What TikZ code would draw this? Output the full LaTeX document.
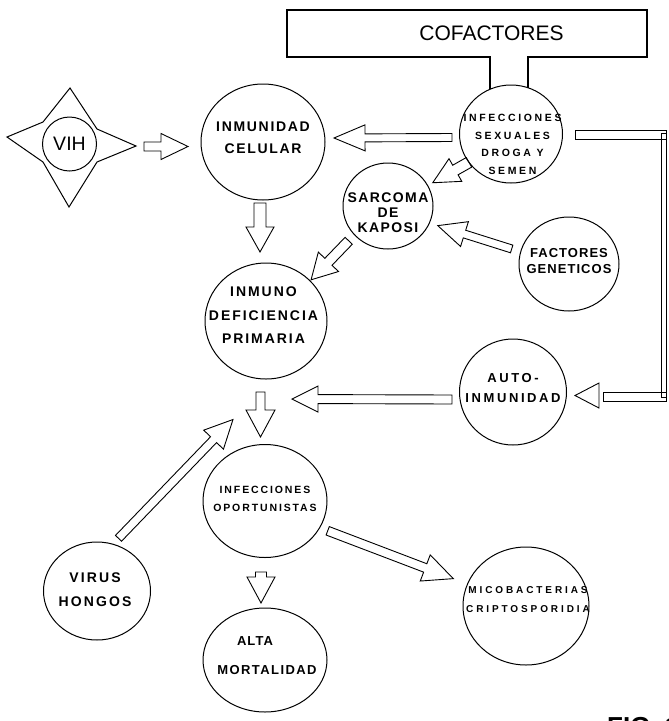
\documentclass[tikz,border=0pt]{standalone}
\usepackage{fontspec}
\newfontfamily\lsans{Liberation Sans}
\usetikzlibrary{shapes.geometric,calc}

\newcommand\blkarrow[5]{%
  \path (#1) coordinate (blkT) (#2) coordinate (blkH);
  \pgfpointdiff{\pgfpointanchor{blkT}{center}}{\pgfpointanchor{blkH}{center}}%
  \pgfgetlastxy{\blkdx}{\blkdy}%
  \pgfmathsetmacro\blkang{atan2(\blkdy,\blkdx)}%
  \pgfmathsetmacro\blklen{veclen(\blkdx,\blkdy)}%
  \begin{scope}[shift={(blkT)},rotate=\blkang]
    \draw[arr] (0,#3) -- ({\blklen-#5},#3) -- ({\blklen-#5},#4) -- (\blklen,0)
      -- ({\blklen-#5},-#4) -- ({\blklen-#5},-#3) -- (0,-#3) -- cycle;
  \end{scope}}

\tikzset{
  bub/.style={draw, ellipse, inner sep=0pt, outer sep=0pt, line width=1pt},
  arr/.style={draw, line width=0.9pt, line join=miter},
  lbl/.style n args={3}{font={\lsans\bfseries\fontsize{#1}{#2}\selectfont\addfontfeature{LetterSpace=#3}}, align=center, inner sep=0pt},
}

\begin{document}
\begin{tikzpicture}[x=1pt,y=-1pt]
\useasboundingbox (0,0) rectangle (669,721);
\fill[white] (0,0) rectangle (669,721);
\clip (0,0) rectangle (669,721);

% ---- VIH star ----
\coordinate (vihW) at (7,137);
\coordinate (vihN) at (70,88);
\coordinate (vihE) at (136,146);
\coordinate (vihS) at (69,207);
\draw[line width=1pt, line join=miter] (vihW) -- (43,122) -- (vihN) -- (97,129) -- (vihE)
   -- (97,162) -- (vihS) -- (43,162) -- cycle;
\node[bub, circle, minimum size=54pt] (vih) at (69.5,144) {};
\node[font={\lsans\fontsize{19.5}{22}\selectfont}, inner sep=0pt] (vihT) at (69.5,144) {VIH};

% ---- bubbles ----
\node[bub, minimum width=124pt, minimum height=116pt] (cel) at (263,142) {};
\node[lbl={14}{22}{12}] (celT) at (263,138) {INMUNIDAD\\CELULAR};

\node[bub, minimum width=103pt, minimum height=98pt] (inf) at (511,134) {};
\node[lbl={10.5}{17.7}{25}] (infT) at (512.5,144.5) {INFECCIONES\\SEXUALES\\DROGA Y\\SEMEN};

\node[bub, minimum width=90pt, minimum height=86pt] (sar) at (388,206) {};
\node[lbl={14}{15}{10}] (sarT) at (388,213) {SARCOMA\\DE\\KAPOSI};

\node[bub, minimum width=100pt, minimum height=94pt] (fac) at (569,264) {};
\node[lbl={13}{16}{8}] (facT) at (569,261) {FACTORES\\GENETICOS};

\node[bub, minimum width=122pt, minimum height=116pt] (pri) at (266,321) {};
\node[lbl={14}{23.5}{14}] (priT) at (263.5,315.5) {INMUNO\\DEFICIENCIA\\PRIMARIA};

\node[bub, minimum width=107pt, minimum height=106pt] (aut) at (513,392) {};
\node[lbl={13}{20}{20}] (autT) at (513,388) {AUTO-\\INMUNIDAD};

\node[bub, minimum width=124pt, minimum height=113pt] (opo) at (265,501) {};
\node[lbl={10.5}{18}{18}] (opoT) at (265,499) {INFECCIONES\\OPORTUNISTAS};

\node[bub, minimum width=107pt, minimum height=98pt] (vir) at (97,591) {};
\node[lbl={14}{24}{15}] (virT) at (95,590) {VIRUS\\HONGOS};

\node[bub, minimum width=124pt, minimum height=104pt] (alt) at (265,660) {};
\node[lbl={13}{16}{8}] (altT1) at (255,641.5) {ALTA};
\node[lbl={13}{16}{11}] (altT2) at (267,670.5) {MORTALIDAD};

\node[bub, minimum width=126pt, minimum height=118pt] (mic) at (526,606) {};
\node[lbl={10}{19}{29}] (micT) at (528,599.5) {MICOBACTERIAS\\CRIPTOSPORIDIA};

% ---- COFACTORES box ----
\coordinate (cbTL) at (287,10);
\coordinate (cbBR) at (647,57);
\node[font={\lsans\fontsize{21}{24}\selectfont}, inner sep=0pt] (cof) at (491.5,33) {COFACTORES};
\draw[line width=1.3pt, line join=miter] (inf.115) -- (inf.115 |- cbBR) -- (cbTL |- cbBR) -- (cbTL)
   -- (cbBR |- cbTL) -- (cbBR) -- (inf.70 |- cbBR) -- (inf.70);

% ---- block arrows ----
\blkarrow{$(vihE)+(8,0.5)$}{$(cel.west)+(-13,4.5)$}{4.5}{13}{27}
\blkarrow{$(inf.west)+(-7.5,3.5)$}{$(cel.east)+(9,-4)$}{4}{13}{31}
\blkarrow{inf.214}{$(sar.27)+(5,-3)$}{5.5}{13}{26}
\blkarrow{$(sar.220)+(-5.5,6.4)$}{$(pri.41)+(0,-2)$}{5}{14}{25}
\blkarrow{$(fac.166)+(-9,-3)$}{$(sar.339)+(8,3.6)$}{4}{13}{28}
\blkarrow{$(cel.south)+(-3,3)$}{$(pri.north)+(-6,-11)$}{6}{14}{25}
\blkarrow{$(aut.west)+(-7.5,7.5)$}{$(pri.south)+(26,20)$}{4.5}{13}{26}
\blkarrow{$(pri.south)+(-5.5,13)$}{$(opo.north)+(-4.5,-7.5)$}{4.5}{14.5}{27}
\blkarrow{$(vir.66.5)+(1.3,-7.3)$}{$(pri.south)+(-33,40.5)$}{4.2}{13.7}{28}
\blkarrow{$(opo.336)+(7,5)$}{$(mic.160)+(-14,-6)$}{4.5}{14}{30}
\blkarrow{$(opo.south)+(-4,14.5)$}{$(alt.north)+(-4,-5)$}{5.5}{14}{26}

% ---- pipe from INFECCIONES to AUTO-INMUNIDAD ----
\coordinate (pA) at ($(inf.east)+(12.5,0.5)$);
\coordinate (pB) at ($(aut.east)+(8.5,3.5)$);
\coordinate (pC) at (663.5,0);
\draw[arr] ($(pA)+(0,-4.5)$) rectangle ($(pC |- pA)+(2.5,4.5)$);
\draw[arr] ($(pC |- pA)+(-2.5,-1)$) rectangle ($(pC |- pB)+(2.5,1.5)$);
\draw[arr] ($(pB)+(28,-3.5)$) rectangle ($(pC |- pB)+(2.5,5.5)$);
\draw[arr] (pB) -- ++(24,-12.5) -- ++(0,25) -- cycle;

% ---- figure label (cut by the page edge) ----
\node[anchor=north west, inner sep=0pt, font={\lsans\bfseries\fontsize{26}{30}\selectfont}] (fig) at (607,717) {FIG. 1};
\end{tikzpicture}
\end{document}
